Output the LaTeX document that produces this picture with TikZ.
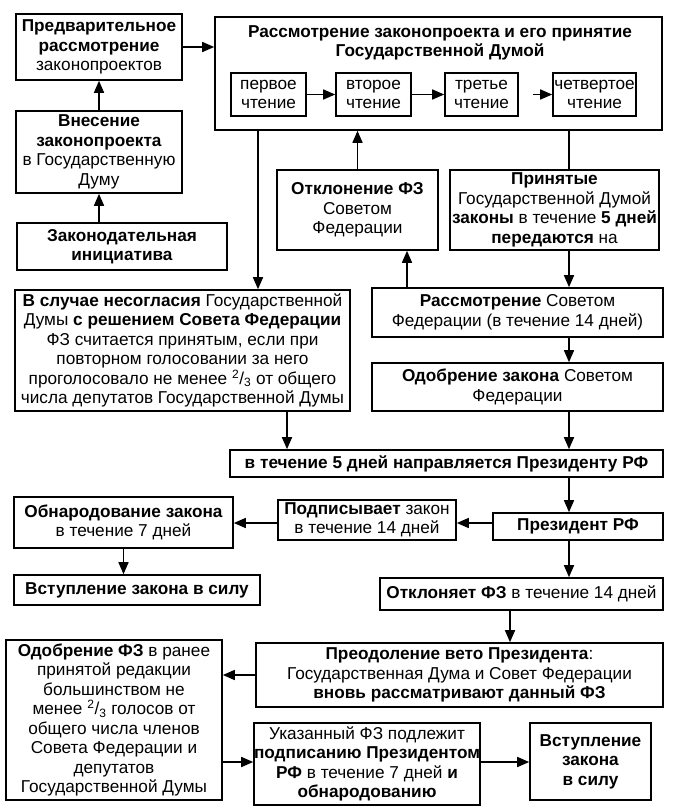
\documentclass[tikz,border=0pt]{standalone}
\usepackage{fontspec}
\setmainfont{Liberation Sans}
\usetikzlibrary{arrows.meta,calc}
\tikzset{
  bx/.style={draw=black, line width=1.6pt, fill=white, align=center, inner sep=0pt,
    font=\fontsize{17.2}{19.5}\selectfont},
  arr/.style={-{Triangle[length=12pt,width=10pt]}, line width=1.5pt},
  ln/.style={line width=1.5pt},
}
\newcommand\bx[6]{\node[bx, minimum width={(#4-#2)*1pt}, minimum height={(#5-#3)*1pt}]
  (#1) at ({(#2+#4)/2},{(#3+#5)/2}) {#6};}
\begin{document}
\begin{tikzpicture}[x=1pt,y=-1pt]
\useasboundingbox[fill=white] (0,0) rectangle (674,811);

\bx{B1}{16}{14}{182}{80}{\textbf{Предварительное}\\\textbf{рассмотрение}\\законопроектов}
\bx{Big}{215}{17}{662}{130}{}
\node[font=\fontsize{17.2}{19.5}\selectfont\bfseries, align=center] (Title) at (440,43)
  {Рассмотрение законопроекта и его принятие\\Государственной Думой};
\bx{R1}{231}{73}{306}{116}{первое\\чтение}
\bx{R2}{336}{73}{411}{116}{второе\\чтение}
\bx{R3}{445}{73}{518}{116}{третье\\чтение}
\bx{R4}{553}{73}{636}{116}{четвертое\\чтение}
\bx{B3}{16}{111}{182}{193}{\textbf{Внесение}\\\textbf{законопроекта}\\в Государственную\\Думу}
\bx{B4}{17}{223}{227}{270}{\textbf{Законодательная}\\\textbf{инициатива}}
\bx{Otkl}{277}{170}{438}{250}{\textbf{Отклонение ФЗ}\\Советом\\Федерации}
\bx{Prin}{450}{170}{659}{250}{\textbf{Принятые}\\Государственной Думой\\\textbf{законы} в течение \textbf{5 дней}\\\textbf{передаются} на}
\bx{Sl}{15}{290}{350}{411}{\textbf{В случае несогласия} Государственной\\Думы \textbf{с решением Совета Федерации}\\ФЗ считается принятым, если при\\повторном голосовании за него\\проголосовало не менее \textsuperscript{2}/\textsubscript{3} от общего\\числа депутатов Государственной Думы}
\bx{RSF}{372}{288}{663}{337}{\textbf{Рассмотрение} Советом\\Федерации (в течение 14 дней)}
\bx{OSF}{372}{363}{663}{411}{\textbf{Одобрение закона} Советом\\Федерации}
\bx{Five}{230}{450}{663}{477}{\textbf{в течение 5 дней направляется Президенту РФ}}
\bx{Obn}{14}{497}{233}{548}{\textbf{Обнародование закона}\\в течение 7 дней}
\bx{Podp}{278}{500}{456}{540}{\textbf{Подписывает} закон\\в течение 14 дней}
\bx{Prez}{493}{513}{663}{540}{\textbf{Президент РФ}}
\bx{Vst1}{14}{575}{260}{605}{\textbf{Вступление закона в силу}}
\bx{Otn}{380}{578}{663}{610}{\textbf{Отклоняет ФЗ} в течение 14 дней}
\bx{Preod}{256}{643}{663}{707}{\textbf{Преодоление вето Президента}:\\Государственная Дума и Совет Федерации\\\textbf{вновь рассматривают данный ФЗ}}
\bx{OFZ}{6}{640}{222}{800}{\textbf{Одобрение ФЗ} в ранее\\принятой редакции\\большинством не\\менее \textsuperscript{2}/\textsubscript{3} голосов от\\общего числа членов\\Совета Федерации и\\депутатов\\Государственной Думы}
\bx{Ukaz}{256}{723}{478}{805}{Указанный ФЗ подлежит\\\textbf{подписанию Президентом}\\\textbf{РФ} в течение 7 дней \textbf{и}\\\textbf{обнародованию}}
\bx{Vst2}{530}{723}{651}{800}{\textbf{Вступление}\\\textbf{закона}\\\textbf{в силу}}

\coordinate (xa) at (258,0);
\coordinate (xr) at (569,0);
\coordinate (xo) at (407,0);
\coordinate (xs) at (287,0);
\coordinate (xp) at (510,0);
\coordinate (yp) at (0,523);
\coordinate (yu) at (0,762);

\draw[arr] (B4.north -| B3.south) -- (B3.south);
\draw[arr] (B3.north) -- (B1.south);
\draw[arr] (B1.east) -- (B1.east -| Big.west);
\draw[arr] (R1.east) -- (R2.west);
\draw[arr] (R2.east) -- (R3.west);
\draw[arr, shorten <=14pt] (R3.east) -- (R4.west);
\draw[arr] (Big.south -| xa) -- (Sl.north -| xa);
\draw[arr] (Otkl.north) -- (Otkl.north |- Big.south);
\draw[ln] (Big.south -| xr) -- (Prin.north -| xr);
\draw[arr] (Prin.south -| xr) -- (RSF.north -| xr);
\draw[arr] (RSF.north -| xo) -- (Otkl.south -| xo);
\draw[arr] (RSF.south -| xr) -- (OSF.north -| xr);
\draw[arr] (OSF.south -| xr) -- (Five.north -| xr);
\draw[arr] (Sl.south -| xs) -- (Five.north -| xs);
\draw[arr] (Five.south -| xr) -- (Prez.north -| xr);
\draw[arr] (Prez.west |- yp) -- (Podp.east |- yp);
\draw[arr] (Podp.west |- yp) -- (Obn.east |- yp);
\draw[arr] (Obn.south) -- (Vst1.north -| Obn.south);
\draw[arr] (Prez.south -| xr) -- (Otn.north -| xr);
\draw[arr] (Otn.south -| xp) -- (Preod.north -| xp);
\draw[arr] (Preod.west) -- (Preod.west -| OFZ.east);
\draw[arr] (OFZ.east |- yu) -- (Ukaz.west |- yu);
\draw[arr] (Ukaz.east |- yu) -- (Vst2.west |- yu);
\end{tikzpicture}
\end{document}
